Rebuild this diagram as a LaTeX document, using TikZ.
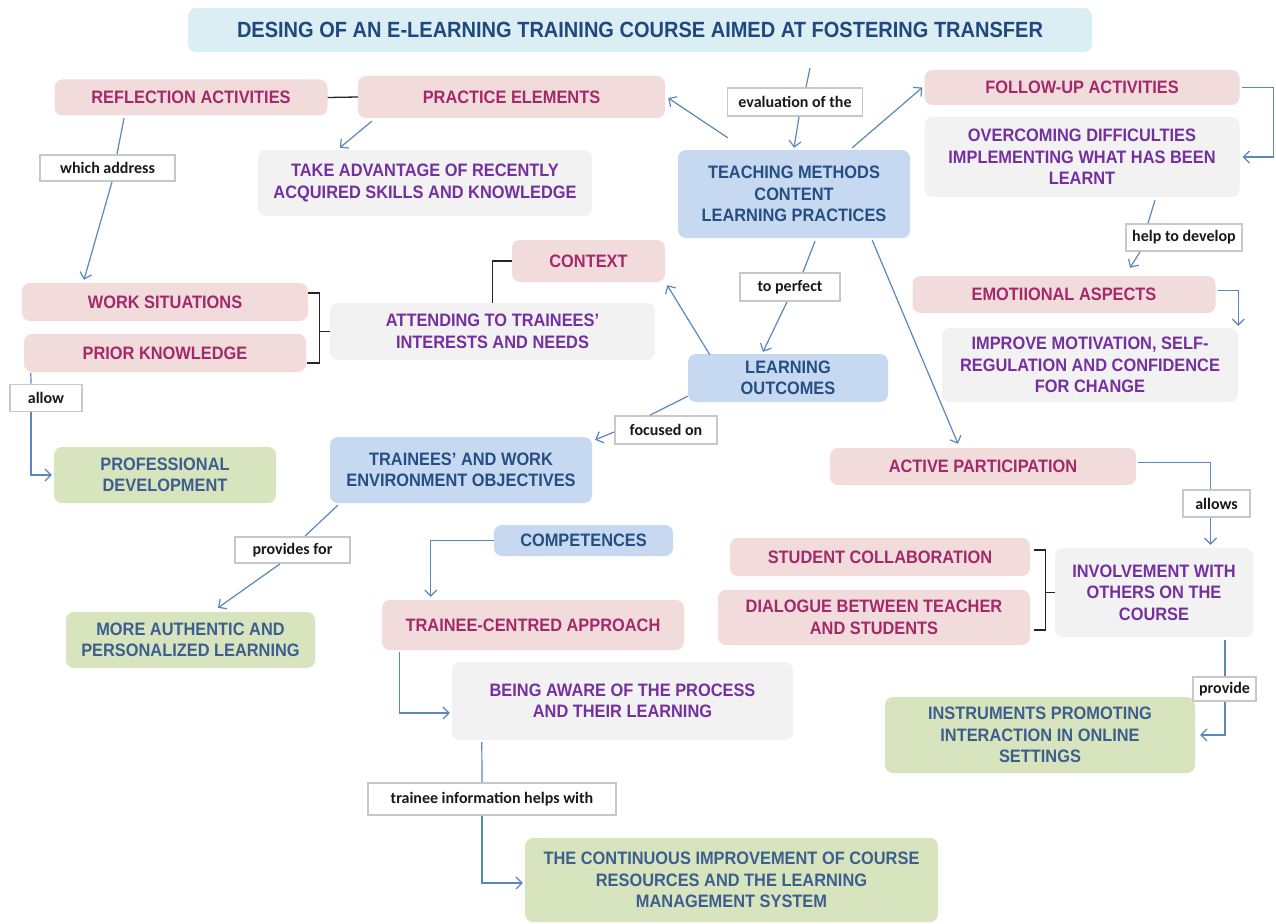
\documentclass[tikz,border=0pt]{standalone}
\usepackage{fontspec}
\setmainfont{Liberation Sans}[FakeStretch=0.91]
\newfontfamily\lblfamily{Carlito}
\usetikzlibrary{arrows.meta}

\definecolor{pinkF}{HTML}{F2DCDB}
\definecolor{pinkT}{HTML}{A3296B}
\definecolor{greyF}{HTML}{F2F2F2}
\definecolor{purpT}{HTML}{7530A0}
\definecolor{blueF}{HTML}{C6D9F1}
\definecolor{blueT}{HTML}{254E82}
\definecolor{greenF}{HTML}{D7E4BD}
\definecolor{greenT}{HTML}{3C5F8F}
\definecolor{titleF}{HTML}{DBEEF4}
\definecolor{titleT}{HTML}{1F497D}
\definecolor{lineC}{HTML}{5B87BC}
\definecolor{lblD}{HTML}{C8C8C8}

\newcommand\mapboxfont{\fontsize{18}{21.5}\selectfont\bfseries}
\newcommand\maplblfont{\lblfamily\bfseries\fontsize{16}{19}\selectfont}

\tikzset{
  box/.style={rounded corners=8pt, align=center, inner sep=0pt, font=\mapboxfont},
  pinkbox/.style={box, fill=pinkF, text=pinkT},
  greybox/.style={box, fill=greyF, text=purpT},
  bluebox/.style={box, fill=blueF, text=blueT},
  greenbox/.style={box, fill=greenF, text=greenT},
  lbl/.style={draw=lblD, line width=1.8pt, fill=white, text=black!90, font=\maplblfont, inner sep=0pt},
  conn/.style={draw=lineC, line width=1.2pt},
  arr/.style={conn, -{Straight Barb[length=6pt,width=12pt]}},
  blk/.style={draw=black!85, line width=1.3pt},
}

\begin{document}
\begin{tikzpicture}[x=1pt,y=-1pt]
\fill[white] (0,0) rectangle (1276,923);
\useasboundingbox (0,0) rectangle (1276,923);

% title
\node[box, fill=titleF, text=titleT, minimum width=904pt, minimum height=44pt,
      font=\fontsize{22}{26}\selectfont\bfseries] (title) at (640,30)
  {DESING OF AN E-LEARNING TRAINING COURSE AIMED AT FOSTERING TRANSFER};

% concept boxes
\node[pinkbox, minimum width=273pt, minimum height=36pt] (refl) at (191,97.5) {REFLECTION ACTIVITIES};
\node[pinkbox, minimum width=307pt, minimum height=42pt] (prac) at (511.5,97) {PRACTICE ELEMENTS};
\node[greybox, minimum width=334pt, minimum height=66pt] (take) at (425,183) {TAKE ADVANTAGE OF RECENTLY\\ACQUIRED SKILLS AND KNOWLEDGE};
\node[bluebox, minimum width=232pt, minimum height=88pt] (teach) at (794,194) {TEACHING METHODS\\CONTENT\\LEARNING PRACTICES};
\node[pinkbox, minimum width=315pt, minimum height=35pt] (follow) at (1082,87.5) {FOLLOW-UP ACTIVITIES};
\node[greybox, minimum width=315pt, minimum height=80pt] (overc) at (1082,157) {OVERCOMING DIFFICULTIES\\IMPLEMENTING WHAT HAS BEEN\\LEARNT};
\node[pinkbox, minimum width=303pt, minimum height=37pt] (emot) at (1064,294.5) {EMOTIIONAL ASPECTS};
\node[greybox, minimum width=296pt, minimum height=74pt] (impr) at (1090,365) {IMPROVE MOTIVATION, SELF-\\REGULATION AND CONFIDENCE\\FOR CHANGE};
\node[pinkbox, minimum width=153pt, minimum height=42pt] (context) at (588.5,261) {CONTEXT};
\node[greybox, minimum width=325pt, minimum height=57pt] (attend) at (492.5,331.5) {ATTENDING TO TRAINEES’\\INTERESTS AND NEEDS};
\node[pinkbox, minimum width=286pt, minimum height=38pt] (work) at (165,302) {WORK SITUATIONS};
\node[pinkbox, minimum width=282pt, minimum height=38pt] (prior) at (165,353) {PRIOR KNOWLEDGE};
\node[greenbox, minimum width=222pt, minimum height=56pt] (prof) at (165,475) {PROFESSIONAL\\DEVELOPMENT};
\node[bluebox, minimum width=200pt, minimum height=48pt] (learn) at (788,378) {LEARNING\\OUTCOMES};
\node[bluebox, minimum width=262pt, minimum height=66pt] (trainees) at (461,470) {TRAINEES’ AND WORK\\ENVIRONMENT OBJECTIVES};
\node[greenbox, minimum width=249pt, minimum height=56pt] (more) at (190.5,640) {MORE AUTHENTIC AND\\PERSONALIZED LEARNING};
\node[bluebox, minimum width=179pt, minimum height=31pt] (comp) at (583.5,540.5) {COMPETENCES};
\node[pinkbox, minimum width=302pt, minimum height=50pt] (tca) at (533,625) {TRAINEE-CENTRED APPROACH};
\node[greybox, minimum width=341pt, minimum height=78pt] (aware) at (622.5,701) {BEING AWARE OF THE PROCESS\\AND THEIR LEARNING};
\node[greenbox, minimum width=413pt, minimum height=84pt] (cont) at (731.5,880) {THE CONTINUOUS IMPROVEMENT OF COURSE\\RESOURCES AND THE LEARNING\\MANAGEMENT SYSTEM};
\node[pinkbox, minimum width=306pt, minimum height=37pt] (active) at (983,466.5) {ACTIVE PARTICIPATION};
\node[pinkbox, minimum width=300pt, minimum height=38pt] (stud) at (880,557) {STUDENT COLLABORATION};
\node[pinkbox, minimum width=312pt, minimum height=55pt] (dial) at (874,617.5) {DIALOGUE BETWEEN TEACHER\\AND STUDENTS};
\node[greybox, minimum width=198pt, minimum height=89pt] (invol) at (1154,592.5) {INVOLVEMENT WITH\\OTHERS ON THE\\COURSE};
\node[greenbox, minimum width=310pt, minimum height=76pt] (instr) at (1040,735) {INSTRUMENTS PROMOTING\\INTERACTION IN ONLINE\\SETTINGS};

% linking phrases
\node[lbl, minimum width=135pt, minimum height=28pt] (evalL) at (795,102) {evaluation of the};
\node[lbl, minimum width=135pt, minimum height=26pt] (whichL) at (107.5,168) {which address};
\node[lbl, minimum width=72pt, minimum height=27pt] (allowL) at (46,398) {allow};
\node[lbl, minimum width=100pt, minimum height=28pt] (perfL) at (790,287) {to perfect};
\node[lbl, minimum width=102pt, minimum height=28pt] (focusL) at (666,430) {focused on};
\node[lbl, minimum width=115pt, minimum height=26pt] (provL) at (292.5,550) {provides for};
\node[lbl, minimum width=116pt, minimum height=27pt] (helpL) at (1184,237.5) {help to develop};
\node[lbl, minimum width=67pt, minimum height=27pt] (allowsL) at (1216.5,503.5) {allows};
\node[lbl, minimum width=248pt, minimum height=32pt] (traineeL) at (492,799) {trainee information helps with};
\node[lbl, minimum width=63pt, minimum height=24pt] (provideL) at (1224.5,689) {provide};

% black joins and brackets
\draw[blk] (refl.east) -- (prac.west);
\draw[blk] (attend.north) |- (context.west);
\draw[blk] ([shift={(0,-9)}]work.east) -- ++(11,0) |- ([shift={(1,10)}]prior.east);
\draw[blk] (attend.west) -- ++(-11,0);
\draw[blk] ([shift={(4,-7)}]stud.east) -- ++(11,0) |- ([shift={(4,12.5)}]dial.east);
\draw[blk] (invol.west) -- ++(-10,0);

% blue connectors
\draw[conn] ([shift={(-67,2.5)}]refl.south) -- ([shift={(9.5,0)}]whichL.north);
\draw[arr] ([shift={(4.5,0)}]whichL.south) -- ([shift={(-81,-3)}]work.north);
\draw[arr] ([shift={(14,3)}]prac.south west) -- ([shift={(82,-2)}]take.north west);
\draw[conn] ([shift={(170,16)}]title.south) -- ([shift={(11,0)}]evalL.north);
\draw[arr] ([shift={(4,0)}]evalL.south) -- ([shift={(0,-2)}]teach.north);
\draw[arr] ([shift={(50,-12)}]teach.north west) -- ([shift={(3,1)}]prac.east);
\draw[arr] ([shift={(-58,-2)}]teach.north east) -- ([shift={(-2,0)}]follow.west);
\draw[arr] ([shift={(2,0)}]follow.east) -- ++(32,0) |- ([shift={(3,0)}]overc.east);
\draw[conn] ([shift={(73,3)}]overc.south) -- ([shift={(-36,0)}]helpL.north);
\draw[arr] ([shift={(-44,0)}]helpL.south) -- ([shift={(66,-8)}]emot.north);
\draw[arr] ([shift={(2,-4)}]emot.east) -| ([shift={(0,-2)}]impr.north east);
\draw[conn] ([shift={(7,1)}]prior.south west) -- ([shift={(-15,0)}]allowL.north);
\draw[arr] ([shift={(-15,0)}]allowL.south) |- ([shift={(-2,0)}]prof.west);
\draw[conn] ([shift={(21,3)}]teach.south) -- ([shift={(13,0)}]perfL.north);
\draw[arr] ([shift={(-3,0)}]perfL.south) -- ([shift={(-25,-2)}]learn.north);
\draw[arr] ([shift={(22,1)}]learn.north west) -- ([shift={(2,3)}]context.south east);
\draw[conn] ([shift={(0,-6)}]learn.south west) -- ([shift={(-16,0)}]focusL.north);
\draw[arr] ([shift={(0,2)}]focusL.west) -- ([shift={(3,3)}]trainees.north east);
\draw[conn] ([shift={(8,2)}]trainees.south west) -- ([shift={(12.5,0)}]provL.north);
\draw[arr] ([shift={(-12.5,0)}]provL.south) -- ([shift={(27.5,-4)}]more.north);
\draw[arr] (comp.west) -| ([shift={(49,-3)}]tca.north west);
\draw[arr] ([shift={(18,2)}]tca.south west) |- ([shift={(-2,12)}]aware.west);
\draw[conn] ([shift={(30,2)}]aware.south west) -- ([shift={(-10,0)}]traineeL.north);
\draw[arr] ([shift={(-10,0)}]traineeL.south) |- ([shift={(-2,3)}]cont.west);
\draw[arr] ([shift={(-38,2)}]teach.south east) -- ([shift={(-25,-4)}]active.north);
\draw[conn] ([shift={(2,-4)}]active.east) -| ([shift={(-6,0)}]allowsL.north);
\draw[arr] ([shift={(-6,0)}]allowsL.south) -- ([shift={(56.5,-3)}]invol.north);
\draw[conn] ([shift={(71,3)}]invol.south) -- ([shift={(0.5,0)}]provideL.north);
\draw[arr] ([shift={(0.5,0)}]provideL.south) |- ([shift={(5,0)}]instr.east);
\end{tikzpicture}
\end{document}
